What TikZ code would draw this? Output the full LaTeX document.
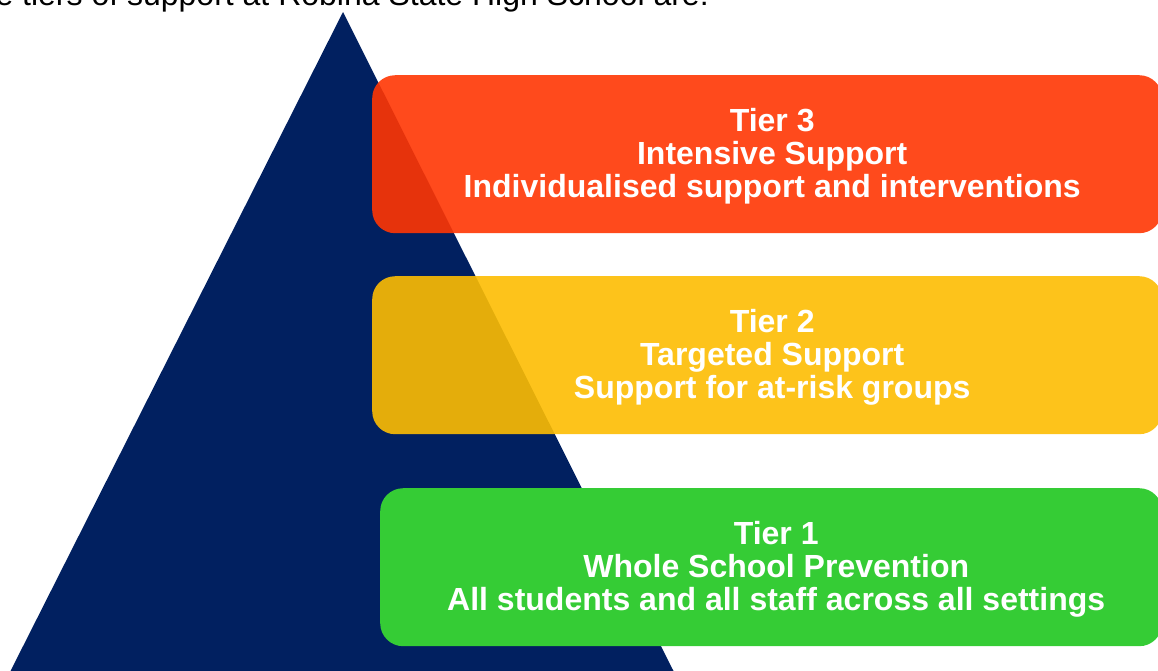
\documentclass[tikz,border=0pt]{standalone}
\usepackage{fontspec}
\setmainfont{Liberation Sans}

\definecolor{pyramidblue}{HTML}{012060}
\definecolor{tierred}{HTML}{FF3603}
\definecolor{tieryellow}{HTML}{FDBD02}
\definecolor{tiergreen}{HTML}{35CC35}

\begin{document}
\begin{tikzpicture}
[x=1pt, y=-1pt, font=\fontsize{32}{33}\selectfont,
       tier/.style={anchor=north west, rounded corners=23pt, fill opacity=0.9,
                    inner sep=0pt, minimum height=158pt},
       tiertext/.style={text=white, align=center, inner sep=0pt, xshift=5pt, yshift=-2pt,
                    font=\fontsize{32}{33}\selectfont\bfseries}]
  \useasboundingbox (0,0) rectangle (1158,670);
  \clip (0,0) rectangle (1158,670);
  % heading, runs off the top edge
  \node[anchor=base east, inner sep=0pt] (heading) at (709,5)
     {The tiers of support at Robina State High School are:};
  % pyramid
  \coordinate (apex) at (343,12);
  \coordinate (baseleft) at (10,672);
  \coordinate (baseright) at (674,672);
  \fill[pyramidblue] (apex) -- (baseright) -- (baseleft) -- cycle;
  % tiers (top two let the pyramid show through)
  \node[tier, fill=tierred, minimum width=790pt] (tier3) at (372,75) {};
  \node[tier, fill=tieryellow, minimum width=790pt] (tier2) at (372,276) {};
  \node[tier, fill=tiergreen, fill opacity=1, minimum width=782pt] (tier1) at (380,488) {};
  \node[tiertext] (tier3text) at (tier3.center)
     {Tier 3\\Intensive Support\\Individualised support and interventions};
  \node[tiertext] (tier2text) at (tier2.center)
     {Tier 2\\Targeted Support\\Support for at-risk groups};
  \node[tiertext] (tier1text) at (tier1.center)
     {Tier 1\\Whole School Prevention\\All students and all staff across all settings};
\end{tikzpicture}
\end{document}
